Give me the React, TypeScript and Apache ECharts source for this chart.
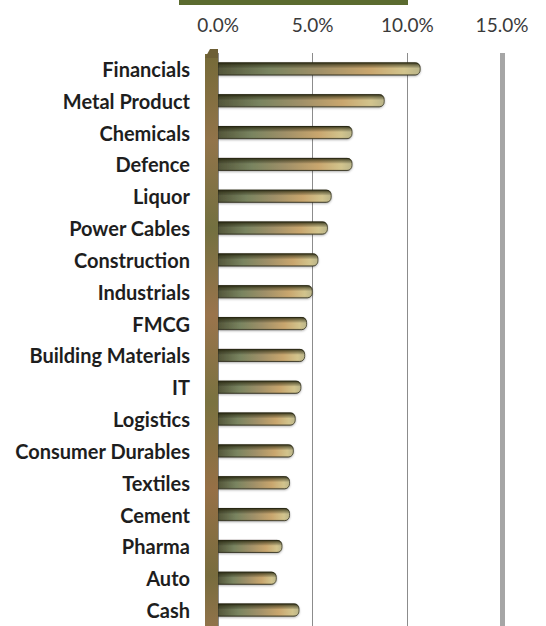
import React, { useEffect, useRef } from "react";
import * as echarts from "echarts";

const categories = [
  "Financials",
  "Metal Product",
  "Chemicals",
  "Defence",
  "Liquor",
  "Power Cables",
  "Construction",
  "Industrials",
  "FMCG",
  "Building Materials",
  "IT",
  "Logistics",
  "Consumer Durables",
  "Textiles",
  "Cement",
  "Pharma",
  "Auto",
  "Cash",
];

const weights = [10.7, 8.8, 7.1, 7.1, 6.0, 5.8, 5.3, 5.0, 4.7, 4.6, 4.4, 4.1, 4.0, 3.8, 3.8, 3.4, 3.1, 4.3];

const xTicks = [0, 5, 10, 15];

export default function App() {
  const ref = useRef<HTMLDivElement>(null);

  useEffect(() => {
    if (!ref.current) return;
    const chart = echarts.init(ref.current, null, { renderer: "svg" });
    const barFill = new echarts.graphic.LinearGradient(0, 0, 1, 0, [
      { offset: 0, color: "#54563a" },
      { offset: 0.25, color: "#798460" },
      { offset: 0.5, color: "#a09068" },
      { offset: 0.75, color: "#c9a66e" },
      { offset: 0.92, color: "#d2c48d" },
      { offset: 1, color: "#bab58a" },
    ]);
    const shade = new echarts.graphic.LinearGradient(0, 0, 0, 1, [
      { offset: 0, color: "rgba(30,30,10,0.9)" },
      { offset: 0.25, color: "rgba(40,40,15,0.4)" },
      { offset: 0.45, color: "rgba(0,0,0,0)" },
      { offset: 0.85, color: "rgba(0,0,0,0)" },
      { offset: 1, color: "rgba(0,0,0,0.25)" },
    ]);
    const wallFill = new echarts.graphic.LinearGradient(0, 0, 0, 1, [
      { offset: 0, color: "#756a38" },
      { offset: 0.15, color: "#92744a" },
      { offset: 0.3, color: "#737040" },
      { offset: 0.45, color: "#9a744c" },
      { offset: 0.6, color: "#7a7240" },
      { offset: 0.75, color: "#967046" },
      { offset: 0.9, color: "#786c3e" },
      { offset: 1, color: "#94744c" },
    ]);
    chart.setOption({
      animation: false,
      grid: { left: 218, right: 44, top: 53, height: 576, containLabel: false },
      xAxis: {
        type: "value",
        position: "top",
        min: 0,
        max: 15,
        interval: 5,
        axisLine: { show: false },
        axisTick: { show: false },
        axisLabel: {
          formatter: (v: number) => (xTicks.includes(v) ? v.toFixed(1) + "%" : ""),
          fontFamily: "Lato",
          fontSize: 19,
          color: "#3a3a3a",
          margin: 19,
        },
        splitLine: { show: true, lineStyle: { color: "#8c8c8c", width: 1 } },
      },
      yAxis: {
        type: "category",
        data: categories,
        inverse: true,
        offset: 11,
        axisLine: { show: false },
        axisTick: { show: true, length: 7, lineStyle: { color: "#9a9a9a" } },
        axisLabel: {
          fontFamily: "Lato",
          fontWeight: "bold",
          fontSize: 20,
          color: "#1e1e1e",
          margin: 17,
        },
      },
      series: [
        {
          type: "bar",
          data: weights,
          barWidth: 13,
          itemStyle: {
            color: barFill,
            borderRadius: [0, 5, 5, 0],
            borderColor: "#3c3a26",
            borderWidth: 0.8,
            shadowColor: "rgba(0,0,0,0.3)",
            shadowBlur: 2,
            shadowOffsetY: 1,
          },
          markLine: {
            silent: true,
            symbol: "none",
            label: { show: false },
            lineStyle: { color: "#a6a6a6", width: 5, type: "solid" },
            data: [{ xAxis: 15 }],
          },
          z: 3,
        },
        {
          type: "bar",
          data: weights,
          barWidth: 13,
          barGap: "-100%",
          silent: true,
          itemStyle: { color: shade, borderRadius: [0, 5, 5, 0] },
          z: 4,
        },
      ],
      graphic: [
        {
          type: "rect",
          z: 10,
          shape: { x: 179, y: 0, width: 229, height: 5 },
          style: { fill: "#5b6b2f" },
        },
        {
          type: "rect",
          z: 10,
          shape: { x: 205, y: 54, width: 13, height: 580 },
          style: { fill: wallFill },
        },
        {
          type: "polygon",
          z: 10,
          shape: { points: [[205, 58], [210, 49], [218, 49], [218, 58]] },
          style: { fill: "#6d5f35" },
        },
      ],
    });
    return () => chart.dispose();
  }, []);

  return (
    <div
      ref={ref}
      style={{ position: "fixed", left: 0, top: 0, width: 546, height: 626, background: "#fff" }}
    />
  );
}
